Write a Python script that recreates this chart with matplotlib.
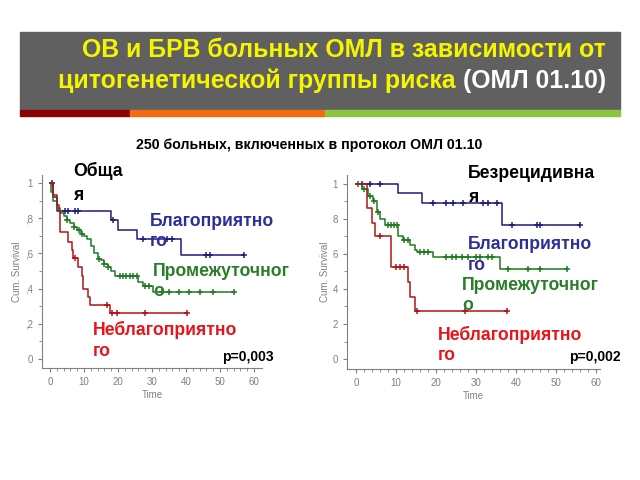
import numpy as np
import matplotlib.pyplot as plt
from matplotlib.patches import Rectangle

# Overall survival (left panel): step times and survival values, censor times
os_fav_t = [0, 1, 2, 18, 20, 25.5, 38.4, 57]
os_fav_s = [1, 0.92, 0.84, 0.79, 0.73, 0.68, 0.59, 0.59]
os_fav_c = [0.5, 4.4, 5.3, 7.4, 8.2, 18.5, 27.4, 34.4, 35.9, 46, 47, 57]

os_int_t = [0, 0.3, 1, 2, 3, 4, 5, 6, 7, 8, 9, 10, 11, 12, 13, 14, 15, 16, 17, 18, 19, 26, 27.4, 30.4, 54]
os_int_s = [1, 0.95, 0.90, 0.86, 0.83, 0.81, 0.79, 0.77, 0.75, 0.73, 0.71, 0.70, 0.68, 0.64, 0.60,
            0.57, 0.56, 0.54, 0.52, 0.50, 0.47, 0.44, 0.415, 0.38, 0.38]
os_int_c = [5, 7, 8.5, 9.5, 14.5, 16, 17, 20.6, 21.5, 22.5, 23.5, 24.5, 25.5, 28, 29,
            33, 35, 38, 41, 44, 48, 54]

os_unf_t = [0, 1, 2, 2.6, 3, 5.4, 6.4, 6.9, 8.3, 9.3, 9.8, 11.3, 11.8, 17.6, 40.2]
os_unf_s = [1, 0.93, 0.875, 0.84, 0.72, 0.667, 0.62, 0.575, 0.52, 0.47, 0.40, 0.355, 0.307, 0.26, 0.26]
os_unf_c = [7.5, 16.7, 18.1, 19.6, 27.9, 40.2]

# Relapse-free survival (right panel)
rfs_fav_t = [0, 10.4, 16.4, 36.4, 56]
rfs_fav_s = [1, 0.947, 0.89, 0.766, 0.766]
rfs_fav_c = [1.4, 3.5, 6, 19.3, 22.5, 24.3, 26.7, 31.8, 33.1, 35.2, 38.9, 45.2, 46, 56]

rfs_int_t = [0, 1.4, 3.1, 4.3, 5.2, 6, 7.3, 10.6, 11.8, 13.5, 14.8, 15.2, 19.3, 36, 52.7]
rfs_int_s = [1, 0.97, 0.93, 0.90, 0.84, 0.80, 0.766, 0.70, 0.68, 0.65, 0.62, 0.613, 0.585, 0.513, 0.513]
rfs_int_c = [0.5, 2, 3.5, 4.6, 5.5, 8, 8.8, 9.5, 10.2, 12, 13, 16, 17, 18, 22.5, 24, 25,
             26.5, 28, 30, 31, 33, 34, 38, 43, 46, 52.7]

rfs_unf_t = [0, 2.7, 3.9, 4.75, 8.75, 12.9, 13.5, 14.75, 37.7]
rfs_unf_s = [1, 0.86, 0.775, 0.70, 0.527, 0.44, 0.356, 0.274, 0.274]
rfs_unf_c = [6, 10, 11, 12, 15.3, 27.2, 37.7]

col_fav = '#1c1c7c'
col_int = '#1f7a1f'
col_unf = '#b01515'
txt_fav = '#2e2e9a'
txt_int = '#2a7d2a'
txt_unf = '#e8141b'
grey = '#808080'

plt.rcParams['font.family'] = ['Liberation Sans', 'DejaVu Sans']

fig = plt.figure(figsize=(6.4, 4.8), dpi=100)


def fx(px):
    return px / 640


def fy(py):
    return 1 - py / 480


# title bar
fig.patches.append(Rectangle((fx(20), fy(110)), 600 / 640, 78 / 480,
                             transform=fig.transFigure, color='#606060', zorder=0))
for x0, x1, c in [(20, 130, '#8b0000'), (130, 325, '#f26b0f'), (325, 620, '#8cc63f')]:
    fig.patches.append(Rectangle((fx(x0), fy(116)), (x1 - x0) / 640, 6 / 480,
                                 transform=fig.transFigure, color=c, zorder=0))

fig.text(fx(606), fy(50), 'ОВ и БРВ больных ОМЛ в зависимости от', color='#f5f500',
         fontsize=17.9, fontweight='bold', ha='right', va='center')
t_white = fig.text(fx(606), fy(81), '(ОМЛ 01.10)', color='white',
                   fontsize=17.9, fontweight='bold', ha='right', va='center')
fig.add_artist(plt.Annotation('цитогенетической группы риска ', xy=(0, 0.5),
                              xycoords=t_white, color='#f5f500', fontsize=17.9,
                              fontweight='bold', ha='right', va='center'))
fig.text(fx(309), fy(145), '250 больных, включенных в протокол ОМЛ 01.10',
         fontsize=10.2, fontweight='bold', ha='center', va='center')


def survival_at(times, surv, tc):
    idx = np.searchsorted(times, tc, side='right') - 1
    return np.array(surv)[idx]


def km_panel(rect, xlim, ylim, curves, ylabels):
    ax = fig.add_axes(rect)
    for t, s, c, col in curves:
        ax.step(t, s, where='post', color=col, lw=1.1)
        ax.plot(c, survival_at(t, s, c), '+', color=col, ms=5, mew=1.1)
    ax.set_xlim(*xlim)
    ax.set_ylim(*ylim)
    ax.set_xticks(range(0, 61, 10))
    ax.set_xticks(range(0, 61, 2), minor=True)
    ax.set_yticks([0, 0.2, 0.4, 0.6, 0.8, 1.0])
    ax.set_yticks(np.arange(0, 1.01, 0.1), minor=True)
    ax.set_yticklabels(ylabels)
    for sp in ['top', 'right']:
        ax.spines[sp].set_visible(False)
    for sp in ['left', 'bottom']:
        ax.spines[sp].set_color(grey)
        ax.spines[sp].set_linewidth(0.8)
    ax.tick_params(colors=grey, labelsize=7, length=3, width=0.8)
    ax.tick_params(which='minor', colors=grey, length=2, width=0.6)
    ax.set_xlabel('Time', fontsize=7, color=grey, labelpad=2)
    ax.set_ylabel('Cum. Survival', fontsize=7, color=grey, labelpad=2)
    return ax


km_panel([fx(42), fy(368), 220 / 640, 193 / 480], (-2.35, 62.35), (-0.051, 1.045),
         [(os_fav_t, os_fav_s, os_fav_c, col_fav),
          (os_int_t, os_int_s, os_int_c, col_int),
          (os_unf_t, os_unf_s, os_unf_c, col_unf)],
         ['0', ',2', ',4', ',6', ',8', '1'])
km_panel([fx(347), fy(369), 253 / 640, 194 / 480], (-2.25, 61), (-0.057, 1.051),
         [(rfs_fav_t, rfs_fav_s, rfs_fav_c, col_fav),
          (rfs_int_t, rfs_int_s, rfs_int_c, col_int),
          (rfs_unf_t, rfs_unf_s, rfs_unf_c, col_unf)],
         ['0', '2', '4', '6', '8', '1'])


def label(x, y1, y2, first, second, color):
    kw = dict(fontsize=12.7, fontweight='bold', ha='left', va='center', color=color)
    fig.text(fx(x), fy(y1), first, **kw)
    fig.text(fx(x), fy(y2), second, **kw)


label(73, 171, 195, 'Обща', 'я', 'black')
label(150, 222, 242, 'Благоприятно', 'го', txt_fav)
label(153, 271, 292, 'Промежуточног', 'о', txt_int)
label(93, 330, 351, 'Неблагоприятно', 'го', txt_unf)
fig.text(fx(222), fy(357), 'p=0,003', fontsize=10, fontweight='bold', ha='left', va='center')

label(468, 173, 197, 'Безрецидивна', 'я', 'black')
label(468, 245, 266, 'Благоприятно', 'го', txt_fav)
label(462, 285, 306, 'Промежуточног', 'о', txt_int)
label(438, 335, 356, 'Неблагоприятно', 'го', txt_unf)
fig.text(fx(569), fy(357), 'p=0,002', fontsize=10, fontweight='bold', ha='left', va='center')

fig.savefig('out.png', dpi=100)
